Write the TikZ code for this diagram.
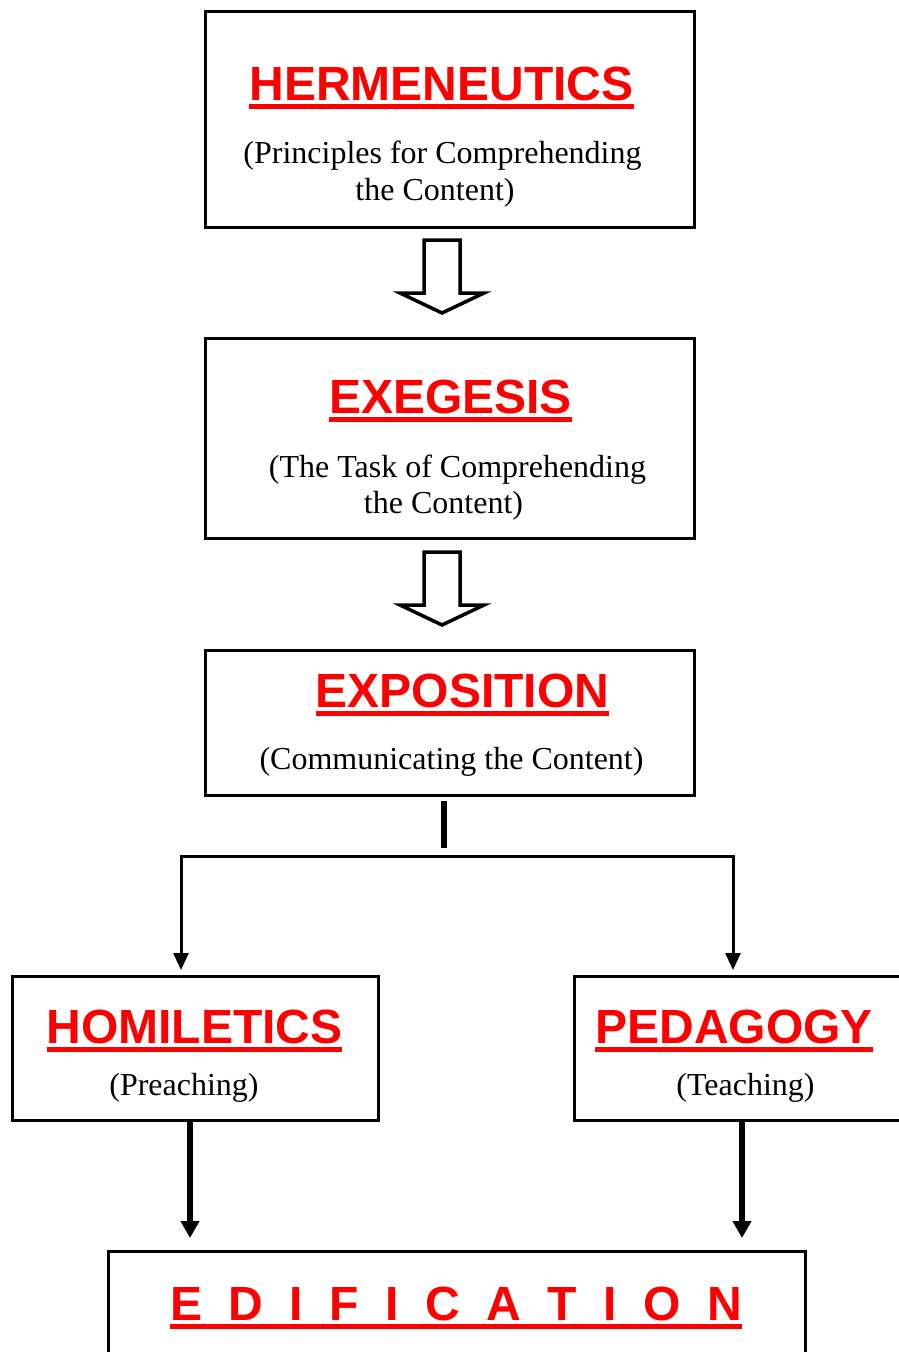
\documentclass[tikz,border=0pt]{standalone}
\usepackage{fontspec}
\setmainfont{Liberation Serif}
\setsansfont{Liberation Sans}
\usetikzlibrary{arrows.meta,calc}
\definecolor{ttlred}{RGB}{255,0,0}
\newcommand\redul[1]{\setbox0=\hbox{#1}\vtop{\box0\kern4pt\hrule height 5pt}}
\newcommand\gp{\hspace{26.5pt}}
\begin{document}
\begin{tikzpicture}[x=1pt,y=-1pt,
  box/.style={draw=black,line width=3pt,inner sep=0pt},
  ttl/.style={anchor=base,inner sep=0pt,text=ttlred,font=\fontsize{48}{52}\selectfont\sffamily\bfseries},
  sub/.style={anchor=base,inner sep=0pt,text=black,font=\fontsize{32}{37}\selectfont},
  blk/.style={draw=black,line width=3.5pt,fill=white,line join=miter},
  conn/.style={draw=black,line width=3pt,line join=miter},
  thickconn/.style={draw=black,line width=6pt},
  tipA/.tip={Triangle[length=17pt,width=15pt]},
  tipB/.tip={Triangle[length=17pt,width=18pt]}]
\useasboundingbox (0,0) rectangle (899,1352);

% boxes
\node[box,minimum width=489pt,minimum height=216pt] (b1) at (449.5,119) {};
\node[box,minimum width=489pt,minimum height=200pt] (b2) at (449.5,438) {};
\node[box,minimum width=489pt,minimum height=145pt] (b3) at (449.5,722.5) {};
\node[box,minimum width=366pt,minimum height=144pt] (b4) at (195,1048) {};
\node[box,minimum width=356pt,minimum height=144pt] (b5) at (752,1048) {};
\node[box,minimum width=697pt,minimum height=149pt] (b6) at (456.5,1325.5) {};

% texts
\node[ttl] (t1) at (441.5,100) {\redul{HERMENEUTICS}};
\node[sub] (s1a) at (442.5,163) {(Principles for Comprehending};
\node[sub] (s1b) at (435,200) {the Content)};
\node[ttl] (t2) at (450.5,413) {\redul{EXEGESIS}};
\node[sub] (s2a) at (457.5,477) {(The Task of Comprehending};
\node[sub] (s2b) at (443.5,513) {the Content)};
\node[ttl] (t3) at (462.5,707) {\redul{EXPOSITION}};
\node[sub] (s3) at (451.5,769) {(Communicating the Content)};
\node[ttl] (t4) at (194.5,1043) {\redul{HOMILETICS}};
\node[sub] (s4) at (184,1095) {(Preaching)};
\node[ttl] (t5) at (734,1043) {\redul{PEDAGOGY}};
\node[sub] (s5) at (745.5,1095) {(Teaching)};
\node[ttl] (t6) at (456,1320) {\redul{E\gp D\gp I\gp F\gp I\gp C\gp A\gp T\gp I\gp O\gp N}};

% block arrows
\coordinate (a1) at (442,240);
\coordinate (a2) at (442,552);
\foreach \a in {a1,a2}{
  \draw[blk] ($(\a)+(-18,0)$) -- ($(\a)+(18,0)$) -- ($(\a)+(18,53)$) -- ($(\a)+(42,53)$)
    -- ($(\a)+(0,73)$) -- ($(\a)+(-42,53)$) -- ($(\a)+(-18,53)$) -- cycle;
}

% split connector
\coordinate (st1) at (444,801);
\coordinate (st2) at (444,848);
\draw[thickconn] (st1) -- (st2);
\coordinate (jl) at (181,856);
\coordinate (jr) at (733,856);
\draw[conn,tipA-tipA,shorten <=4.5pt,shorten >=4.5pt] (jl |- b4.north) -- (jl) -- (jr) -- (jr |- b5.north);

% bottom arrows
\coordinate (hl) at ($(b4.south)+(-5,0)$);
\coordinate (pl) at ($(b5.south)+(-10,0)$);
\draw[thickconn,-tipB,shorten >=11.5pt] (hl) -- (hl |- b6.north);
\draw[thickconn,-tipB,shorten >=11.5pt] (pl) -- (pl |- b6.north);
\end{tikzpicture}
\end{document}
